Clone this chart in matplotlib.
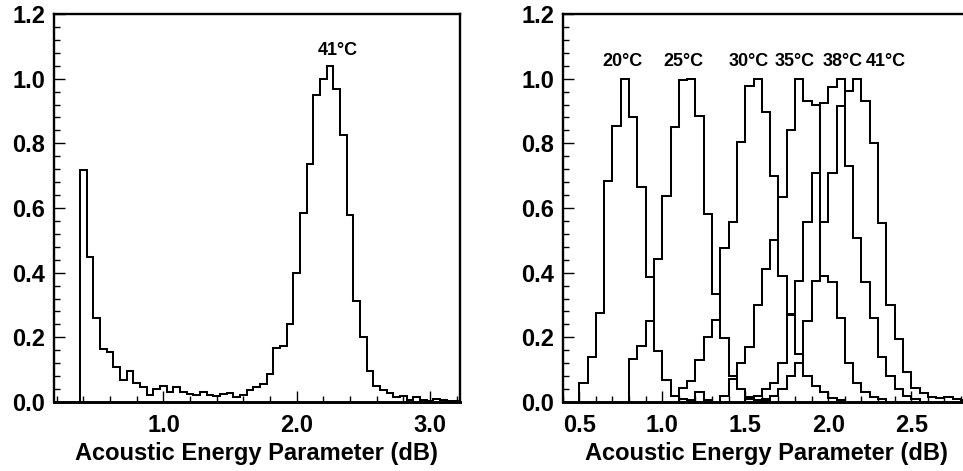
import numpy as np
import matplotlib
matplotlib.use("Agg")
import matplotlib.pyplot as plt
from matplotlib.ticker import MultipleLocator

plt.rcParams['font.family'] = ['Liberation Sans', 'DejaVu Sans']
plt.rcParams['font.weight'] = 'bold'

# ---------------- data ----------------
bin_width = 0.05

# left panel (41 C only), first bin edge
left_start = 0.375
left_vals = [0.716, 0.448, 0.260, 0.164, 0.155, 0.108, 0.069, 0.097, 0.059, 0.046,
             0.023, 0.040, 0.048, 0.030, 0.046, 0.030, 0.026, 0.023, 0.030, 0.021,
             0.020, 0.026, 0.028, 0.015, 0.023, 0.036, 0.046, 0.056, 0.088, 0.167,
             0.172, 0.242, 0.399, 0.585, 0.735, 0.948, 1.000, 1.038, 0.968, 0.827,
             0.577, 0.311, 0.201, 0.095, 0.048, 0.038, 0.028, 0.015, 0.020, 0.007,
             0.014, 0.007, 0.004, 0.009, 0.007, 0.004, 0.003]
left_label = "41°C"

# right panel (several temperatures): first bin edge and bin heights
t20_start = 0.50
t20_vals = [0.059, 0.139, 0.276, 0.685, 0.853, 1.000, 0.881, 0.664, 0.387, 0.159,
            0.069, 0.020, 0.008, 0.005, 0.030, 0.005]
t25_start = 0.80
t25_vals = [0.132, 0.173, 0.250, 0.442, 0.638, 0.850, 0.997, 1.000, 0.884, 0.581,
            0.335, 0.198, 0.079, 0.040, 0.015, 0.005, 0.003]
t30_start = 1.10
t30_vals = [0.043, 0.066, 0.131, 0.200, 0.255, 0.476, 0.556, 0.803, 0.976, 1.000,
            0.896, 0.700, 0.390, 0.272, 0.150, 0.080, 0.050, 0.030, 0.012, 0.005]
t35_start = 1.35
t35_vals = [0.020, 0.070, 0.120, 0.170, 0.300, 0.410, 0.500, 0.635, 0.840, 1.000,
            0.930, 0.920, 0.390, 0.370, 0.260, 0.120, 0.060, 0.030, 0.015, 0.008]
t38_start = 1.50
t38_vals = [0.010, 0.020, 0.040, 0.060, 0.120, 0.270, 0.375, 0.556, 0.708, 0.925,
            0.974, 1.000, 0.730, 0.507, 0.370, 0.260, 0.140, 0.080, 0.040, 0.020,
            0.010]
t41_start = 1.60
t41_vals = [0.010, 0.020, 0.040, 0.080, 0.120, 0.250, 0.375, 0.556, 0.708, 0.914,
            0.963, 1.000, 0.932, 0.800, 0.553, 0.300, 0.195, 0.092, 0.042, 0.029,
            0.016, 0.011, 0.014, 0.008, 0.005]
right_series = [(t20_start, t20_vals), (t25_start, t25_vals), (t30_start, t30_vals),
                (t35_start, t35_vals), (t38_start, t38_vals), (t41_start, t41_vals)]
right_labels = ["20°C", "25°C", "30°C", "35°C", "38°C", "41°C"]
right_label_x = [0.762, 1.13, 1.52, 1.80, 2.086, 2.346]

y_ticks = [0.0, 0.2, 0.4, 0.6, 0.8, 1.0, 1.2]
left_xticks = [1.0, 2.0, 3.0]
right_xticks = [0.5, 1.0, 1.5, 2.0, 2.5]
xlabel_text = "Acoustic Energy Parameter (dB)"

# ---------------- figure ----------------
W, H = 963, 471
fig = plt.figure(figsize=(W / 100, H / 100), dpi=100)
axL = fig.add_axes([53.5 / W, (H - 402) / H, (460 - 53.5) / W, 388 / H])
axR = fig.add_axes([562.7 / W, (H - 402) / H, (971 - 562.7) / W, 388 / H])


def style(ax, xticks, xminor):
    ax.set_ylim(0, 1.2)
    ax.set_yticks(y_ticks)
    ax.set_yticklabels([f"{v:.1f}" for v in y_ticks])
    ax.yaxis.set_minor_locator(MultipleLocator(0.04))
    ax.set_xticks(xticks)
    ax.set_xticklabels([f"{v:.1f}" for v in xticks])
    ax.xaxis.set_minor_locator(MultipleLocator(xminor))
    ax.tick_params(axis='both', which='both', direction='in', top=False, right=False,
                   width=1.0, color='black')
    ax.tick_params(axis='both', which='major', length=8, labelsize=17)
    ax.tick_params(axis='both', which='minor', length=4.5)
    ax.tick_params(axis='x', which='major', pad=9)
    ax.tick_params(axis='y', which='major', pad=6)
    for sp in ax.spines.values():
        sp.set_linewidth(1.7)
    ax.spines['bottom'].set_linewidth(2.1)
    ax.set_xlabel(xlabel_text, fontsize=17, fontweight='bold', labelpad=3)


# left panel
edgesL = left_start + bin_width * np.arange(len(left_vals) + 1)
axL.stairs(left_vals, edgesL, baseline=0, color='black', linewidth=1.45)
axL.set_xlim(0.175, 3.225)
style(axL, left_xticks, 0.2)
axL.text(2.31, 1.086, left_label, ha='center', va='center', fontsize=13,
         fontweight='bold')

# right panel
for start, vals in right_series:
    edges = start + bin_width * np.arange(len(vals) + 1)
    axR.stairs(vals, edges, baseline=0, color='black', linewidth=1.45)
axR.set_xlim(0.40, 2.86)
style(axR, right_xticks, 0.1)
for lx, lab in zip(right_label_x, right_labels):
    axR.text(lx, 1.053, lab, ha='center', va='center', fontsize=13, fontweight='bold')

fig.savefig("out.png", dpi=100)
